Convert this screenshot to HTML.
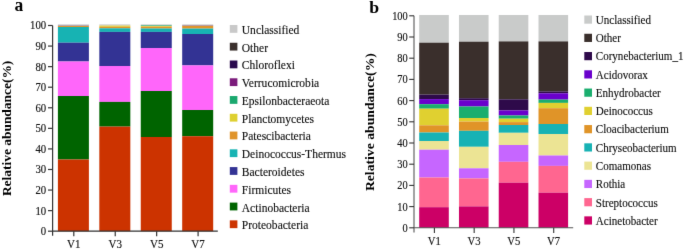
<!DOCTYPE html>
<html><head><meta charset="utf-8"><style>
html,body{margin:0;padding:0;background:#fff;overflow:hidden}
svg{display:block;will-change:transform}
text{font-family:"Liberation Serif",serif}
.r text{stroke:#111;stroke-width:0.15px}
</style></head><body>
<svg width="685" height="249" viewBox="0 0 685 249">
<defs><filter id="bl" x="0" y="0" width="100%" height="100%" color-interpolation-filters="sRGB"><feConvolveMatrix order="3" kernelMatrix="0.00524 0.06192 0.00524 0.06192 0.73137 0.06192 0.00524 0.06192 0.00524" edgeMode="duplicate"/></filter></defs>
<g filter="url(#bl)">
<rect width="685" height="249" fill="#fff"/>
<rect x="57.9" y="24.4" width="31" height="1.3" fill="#c9c9c9"/>
<rect x="57.9" y="25.7" width="31" height="0.15" fill="#3b302d"/>
<rect x="57.9" y="25.85" width="31" height="0.15" fill="#7b1b7b"/>
<rect x="57.9" y="26" width="31" height="1" fill="#e0942a"/>
<rect x="57.9" y="27" width="31" height="15.7" fill="#17b3b3"/>
<rect x="57.9" y="42.7" width="31" height="18.8" fill="#333394"/>
<rect x="57.9" y="61.5" width="31" height="34.5" fill="#ff66fa"/>
<rect x="57.9" y="96" width="31" height="63.5" fill="#006400"/>
<rect x="57.9" y="159.5" width="31" height="71.7" fill="#cc3300"/>
<rect x="99.33" y="24.4" width="31" height="1.2" fill="#c9c9c9"/>
<rect x="99.33" y="25.6" width="31" height="1.2" fill="#ded030"/>
<rect x="99.33" y="26.8" width="31" height="1.5" fill="#e0942a"/>
<rect x="99.33" y="28.3" width="31" height="3.6" fill="#17b3b3"/>
<rect x="99.33" y="31.9" width="31" height="34.1" fill="#333394"/>
<rect x="99.33" y="66" width="31" height="35.9" fill="#ff66fa"/>
<rect x="99.33" y="101.9" width="31" height="24.7" fill="#006400"/>
<rect x="99.33" y="126.6" width="31" height="104.6" fill="#cc3300"/>
<rect x="140.76" y="24.4" width="31" height="1" fill="#c9c9c9"/>
<rect x="140.76" y="25.4" width="31" height="0.6" fill="#1aa86e"/>
<rect x="140.76" y="26" width="31" height="0.7" fill="#ded030"/>
<rect x="140.76" y="26.7" width="31" height="1.8" fill="#e0942a"/>
<rect x="140.76" y="28.5" width="31" height="3.4" fill="#17b3b3"/>
<rect x="140.76" y="31.9" width="31" height="16.1" fill="#333394"/>
<rect x="140.76" y="48" width="31" height="43" fill="#ff66fa"/>
<rect x="140.76" y="91" width="31" height="46" fill="#006400"/>
<rect x="140.76" y="137" width="31" height="94.2" fill="#cc3300"/>
<rect x="182.19" y="24.4" width="31" height="1.1" fill="#c9c9c9"/>
<rect x="182.19" y="25.5" width="31" height="0.2" fill="#3b302d"/>
<rect x="182.19" y="25.7" width="31" height="0.2" fill="#7b1b7b"/>
<rect x="182.19" y="25.9" width="31" height="2.7" fill="#e0942a"/>
<rect x="182.19" y="28.6" width="31" height="5.4" fill="#17b3b3"/>
<rect x="182.19" y="34" width="31" height="31.4" fill="#333394"/>
<rect x="182.19" y="65.4" width="31" height="44.6" fill="#ff66fa"/>
<rect x="182.19" y="110" width="31" height="26.2" fill="#006400"/>
<rect x="182.19" y="136.2" width="31" height="95" fill="#cc3300"/>
<g stroke="#333" stroke-width="1.2" fill="none">
<path d="M52.6 25.5V235.8M52.6 231.2H217.8"/>
<path d="M48 231.2H52.6"/>
<path d="M48 210.63H52.6"/>
<path d="M48 190.06H52.6"/>
<path d="M48 169.49H52.6"/>
<path d="M48 148.92H52.6"/>
<path d="M48 128.35H52.6"/>
<path d="M48 107.78H52.6"/>
<path d="M48 87.21H52.6"/>
<path d="M48 66.64H52.6"/>
<path d="M48 46.07H52.6"/>
<path d="M48 25.5H52.6"/>
<path d="M73.8 231.2V236.3"/>
<path d="M115.23 231.2V236.3"/>
<path d="M156.66 231.2V236.3"/>
<path d="M198.09 231.2V236.3"/>
</g>
<g font-family="Liberation Serif" font-size="11.7" fill="#111" class="r" text-anchor="end">
<text transform="translate(46.2 235.1) scale(0.92 1)">0</text>
<text transform="translate(46.2 214.53) scale(0.92 1)">10</text>
<text transform="translate(46.2 193.96) scale(0.92 1)">20</text>
<text transform="translate(46.2 173.39) scale(0.92 1)">30</text>
<text transform="translate(46.2 152.82) scale(0.92 1)">40</text>
<text transform="translate(46.2 132.25) scale(0.92 1)">50</text>
<text transform="translate(46.2 111.68) scale(0.92 1)">60</text>
<text transform="translate(46.2 91.11) scale(0.92 1)">70</text>
<text transform="translate(46.2 70.54) scale(0.92 1)">80</text>
<text transform="translate(46.2 49.97) scale(0.92 1)">90</text>
<text transform="translate(46.2 29.4) scale(0.92 1)">100</text>
</g>
<g font-family="Liberation Serif" font-size="12" fill="#111" class="r" text-anchor="middle">
<text transform="translate(73.8 247.6) scale(0.92 1)">V1</text>
<text transform="translate(115.23 247.6) scale(0.92 1)">V3</text>
<text transform="translate(156.66 247.6) scale(0.92 1)">V5</text>
<text transform="translate(198.09 247.6) scale(0.92 1)">V7</text>
</g>
<g font-family="Liberation Serif" font-size="13.1" fill="#111" class="r">
<rect x="229.8" y="25" width="7.6" height="7.8" fill="#c9c9c9"/>
<text transform="translate(241.8 33.9) scale(0.88 1)">Unclassified</text>
<rect x="229.8" y="42.76" width="7.6" height="7.8" fill="#3b302d"/>
<text transform="translate(241.8 51.66) scale(0.88 1)">Other</text>
<rect x="229.8" y="60.52" width="7.6" height="7.8" fill="#2a0a4e"/>
<text transform="translate(241.8 69.42) scale(0.88 1)">Chloroflexi</text>
<rect x="229.8" y="78.28" width="7.6" height="7.8" fill="#7b1b7b"/>
<text transform="translate(241.8 87.18) scale(0.88 1)">Verrucomicrobia</text>
<rect x="229.8" y="96.04" width="7.6" height="7.8" fill="#1aa86e"/>
<text transform="translate(241.8 104.94) scale(0.88 1)">Epsilonbacteraeota</text>
<rect x="229.8" y="113.8" width="7.6" height="7.8" fill="#ded030"/>
<text transform="translate(241.8 122.7) scale(0.88 1)">Planctomycetes</text>
<rect x="229.8" y="131.56" width="7.6" height="7.8" fill="#e0942a"/>
<text transform="translate(241.8 140.46) scale(0.88 1)">Patescibacteria</text>
<rect x="229.8" y="149.32" width="7.6" height="7.8" fill="#17b3b3"/>
<text transform="translate(241.8 158.22) scale(0.88 1)">Deinococcus-Thermus</text>
<rect x="229.8" y="167.08" width="7.6" height="7.8" fill="#333394"/>
<text transform="translate(241.8 175.98) scale(0.88 1)">Bacteroidetes</text>
<rect x="229.8" y="184.84" width="7.6" height="7.8" fill="#ff66fa"/>
<text transform="translate(241.8 193.74) scale(0.88 1)">Firmicutes</text>
<rect x="229.8" y="202.6" width="7.6" height="7.8" fill="#006400"/>
<text transform="translate(241.8 211.5) scale(0.88 1)">Actinobacteria</text>
<rect x="229.8" y="220.36" width="7.6" height="7.8" fill="#cc3300"/>
<text transform="translate(241.8 229.26) scale(0.88 1)">Proteobacteria</text>
</g>
<text transform="translate(14.4 11) scale(0.9 1)" font-family="Liberation Serif" font-weight="bold" font-size="19.5" fill="#000">a</text>
<text transform="translate(10.7 128.4) rotate(-90) scale(1 0.92)" text-anchor="middle" font-family="Liberation Serif" font-weight="bold" font-size="13.45" fill="#000">Relative abundance(%)</text>
<rect x="419.2" y="15" width="29.6" height="27.7" fill="#c9cbca"/>
<rect x="419.2" y="42.7" width="29.6" height="51.9" fill="#3a2f2c"/>
<rect x="419.2" y="94.6" width="29.6" height="4.5" fill="#2e0a4a"/>
<rect x="419.2" y="99.1" width="29.6" height="5.1" fill="#6a00cc"/>
<rect x="419.2" y="104.2" width="29.6" height="4.5" fill="#1aae6e"/>
<rect x="419.2" y="108.7" width="29.6" height="16.6" fill="#e0d030"/>
<rect x="419.2" y="125.3" width="29.6" height="7.2" fill="#e09428"/>
<rect x="419.2" y="132.5" width="29.6" height="8.5" fill="#17b2b4"/>
<rect x="419.2" y="141" width="29.6" height="8.7" fill="#ece494"/>
<rect x="419.2" y="149.7" width="29.6" height="27.8" fill="#c666ff"/>
<rect x="419.2" y="177.5" width="29.6" height="29.7" fill="#ff6690"/>
<rect x="419.2" y="207.2" width="29.6" height="20.6" fill="#cc0066"/>
<rect x="458.97" y="15" width="29.6" height="26.7" fill="#c9cbca"/>
<rect x="458.97" y="41.7" width="29.6" height="56.5" fill="#3a2f2c"/>
<rect x="458.97" y="98.2" width="29.6" height="2" fill="#2e0a4a"/>
<rect x="458.97" y="100.2" width="29.6" height="6.3" fill="#6a00cc"/>
<rect x="458.97" y="106.5" width="29.6" height="11.5" fill="#1aae6e"/>
<rect x="458.97" y="118" width="29.6" height="3.6" fill="#e0d030"/>
<rect x="458.97" y="121.6" width="29.6" height="9.2" fill="#e09428"/>
<rect x="458.97" y="130.8" width="29.6" height="16" fill="#17b2b4"/>
<rect x="458.97" y="146.8" width="29.6" height="21.5" fill="#ece494"/>
<rect x="458.97" y="168.3" width="29.6" height="10.1" fill="#c666ff"/>
<rect x="458.97" y="178.4" width="29.6" height="28" fill="#ff6690"/>
<rect x="458.97" y="206.4" width="29.6" height="21.4" fill="#cc0066"/>
<rect x="498.74" y="15" width="29.6" height="26.4" fill="#c9cbca"/>
<rect x="498.74" y="41.4" width="29.6" height="57.9" fill="#3a2f2c"/>
<rect x="498.74" y="99.3" width="29.6" height="11.1" fill="#2e0a4a"/>
<rect x="498.74" y="110.4" width="29.6" height="5.1" fill="#6a00cc"/>
<rect x="498.74" y="115.5" width="29.6" height="3.2" fill="#1aae6e"/>
<rect x="498.74" y="118.7" width="29.6" height="3.4" fill="#e0d030"/>
<rect x="498.74" y="122.1" width="29.6" height="2.9" fill="#e09428"/>
<rect x="498.74" y="125" width="29.6" height="7.8" fill="#17b2b4"/>
<rect x="498.74" y="132.8" width="29.6" height="12.2" fill="#ece494"/>
<rect x="498.74" y="145" width="29.6" height="16.8" fill="#c666ff"/>
<rect x="498.74" y="161.8" width="29.6" height="20.9" fill="#ff6690"/>
<rect x="498.74" y="182.7" width="29.6" height="45.1" fill="#cc0066"/>
<rect x="538.51" y="15" width="29.6" height="26.4" fill="#c9cbca"/>
<rect x="538.51" y="41.4" width="29.6" height="50" fill="#3a2f2c"/>
<rect x="538.51" y="91.4" width="29.6" height="1.9" fill="#2e0a4a"/>
<rect x="538.51" y="93.3" width="29.6" height="6.3" fill="#6a00cc"/>
<rect x="538.51" y="99.6" width="29.6" height="3.3" fill="#1aae6e"/>
<rect x="538.51" y="102.9" width="29.6" height="5.3" fill="#e0d030"/>
<rect x="538.51" y="108.2" width="29.6" height="15.8" fill="#e09428"/>
<rect x="538.51" y="124" width="29.6" height="10" fill="#17b2b4"/>
<rect x="538.51" y="134" width="29.6" height="21.5" fill="#ece494"/>
<rect x="538.51" y="155.5" width="29.6" height="10.4" fill="#c666ff"/>
<rect x="538.51" y="165.9" width="29.6" height="26.8" fill="#ff6690"/>
<rect x="538.51" y="192.7" width="29.6" height="35.1" fill="#cc0066"/>
<g stroke="#555" stroke-width="1.1" fill="none">
<path d="M414 15.8V232.5M414 227.8H573.2"/>
</g><g stroke="#333" stroke-width="1.1" fill="none">
<path d="M409.2 227.8H414"/>
<path d="M409.2 206.6H414"/>
<path d="M409.2 185.4H414"/>
<path d="M409.2 164.2H414"/>
<path d="M409.2 143H414"/>
<path d="M409.2 121.8H414"/>
<path d="M409.2 100.6H414"/>
<path d="M409.2 79.4H414"/>
<path d="M409.2 58.2H414"/>
<path d="M409.2 37H414"/>
<path d="M409.2 15.8H414"/>
<path d="M434.4 227.8V233"/>
<path d="M474.17 227.8V233"/>
<path d="M513.94 227.8V233"/>
<path d="M553.71 227.8V233"/>
</g>
<g font-family="Liberation Serif" font-size="12" fill="#111" class="r" text-anchor="end">
<text transform="translate(407.8 231.8) scale(0.87 1)">0</text>
<text transform="translate(407.8 210.6) scale(0.87 1)">10</text>
<text transform="translate(407.8 189.4) scale(0.87 1)">20</text>
<text transform="translate(407.8 168.2) scale(0.87 1)">30</text>
<text transform="translate(407.8 147) scale(0.87 1)">40</text>
<text transform="translate(407.8 125.8) scale(0.87 1)">50</text>
<text transform="translate(407.8 104.6) scale(0.87 1)">60</text>
<text transform="translate(407.8 83.4) scale(0.87 1)">70</text>
<text transform="translate(407.8 62.2) scale(0.87 1)">80</text>
<text transform="translate(407.8 41) scale(0.87 1)">90</text>
<text transform="translate(407.8 19.8) scale(0.87 1)">100</text>
</g>
<g font-family="Liberation Serif" font-size="11.6" fill="#111" class="r" text-anchor="middle">
<text transform="translate(434.3 244.9) scale(0.92 1)">V1</text>
<text transform="translate(474.07 244.9) scale(0.92 1)">V3</text>
<text transform="translate(513.84 244.9) scale(0.92 1)">V5</text>
<text transform="translate(553.61 244.9) scale(0.92 1)">V7</text>
</g>
<g font-family="Liberation Serif" font-size="13" fill="#111" class="r">
<rect x="584.3" y="15.5" width="7.7" height="8.2" fill="#c9cbca"/>
<text transform="translate(595.8 23.9) scale(0.85 1)">Unclassified</text>
<rect x="584.3" y="33.76" width="7.7" height="8.2" fill="#3a2f2c"/>
<text transform="translate(595.8 42.16) scale(0.85 1)">Other</text>
<rect x="584.3" y="52.02" width="7.7" height="8.2" fill="#2e0a4a"/>
<text transform="translate(595.8 60.42) scale(0.85 1)">Corynebacterium_1</text>
<rect x="584.3" y="70.28" width="7.7" height="8.2" fill="#6a00cc"/>
<text transform="translate(595.8 78.68) scale(0.85 1)">Acidovorax</text>
<rect x="584.3" y="88.54" width="7.7" height="8.2" fill="#1aae6e"/>
<text transform="translate(595.8 96.94) scale(0.85 1)">Enhydrobacter</text>
<rect x="584.3" y="106.8" width="7.7" height="8.2" fill="#e0d030"/>
<text transform="translate(595.8 115.2) scale(0.85 1)">Deinococcus</text>
<rect x="584.3" y="125.06" width="7.7" height="8.2" fill="#e09428"/>
<text transform="translate(595.8 133.46) scale(0.85 1)">Cloacibacterium</text>
<rect x="584.3" y="143.32" width="7.7" height="8.2" fill="#17b2b4"/>
<text transform="translate(595.8 151.72) scale(0.85 1)">Chryseobacterium</text>
<rect x="584.3" y="161.58" width="7.7" height="8.2" fill="#ece494"/>
<text transform="translate(595.8 169.98) scale(0.85 1)">Comamonas</text>
<rect x="584.3" y="179.84" width="7.7" height="8.2" fill="#c666ff"/>
<text transform="translate(595.8 188.24) scale(0.85 1)">Rothia</text>
<rect x="584.3" y="198.1" width="7.7" height="8.2" fill="#ff6690"/>
<text transform="translate(595.8 206.5) scale(0.85 1)">Streptococcus</text>
<rect x="584.3" y="216.36" width="7.7" height="8.2" fill="#cc0066"/>
<text transform="translate(595.8 224.76) scale(0.85 1)">Acinetobacter</text>
</g>
<text transform="translate(369.2 12.9) scale(1.04 1)" font-family="Liberation Serif" font-weight="bold" font-size="17.1" fill="#000">b</text>
<text transform="translate(374.2 122.1) rotate(-90) scale(1 0.86)" text-anchor="middle" font-family="Liberation Serif" font-weight="bold" font-size="13.7" fill="#000">Relative abundance(%)</text>
</g>
</svg>
</body></html>
